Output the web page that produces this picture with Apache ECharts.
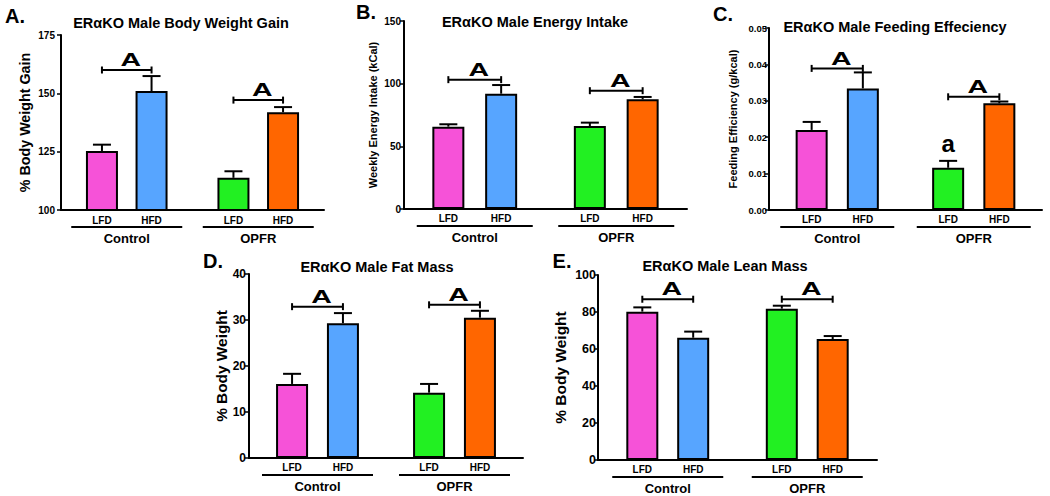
<!DOCTYPE html>
<html><head><meta charset="utf-8">
<script src="https://cdn.jsdelivr.net/npm/echarts@6/dist/echarts.min.js"></script>
<style>html,body{margin:0;padding:0;background:#fff}#c{width:1050px;height:496px}</style>
</head><body><div id="c"></div>
<script>
// ---------- data ----------
const groups = ['Control', 'OPFR'];
const diets = ['LFD', 'HFD'];

// A. Body weight gain (%)
const gainLFD = [125.3, 113.8];
const gainLFDErr = [2.7, 2.8];
const gainHFD = [151.0, 141.9];
const gainHFDErr = [6.4, 2.2];
const gainSig = [160.0, 147.1];
const gainSigText = ['A', 'A'];
const gainTicks = [100, 125, 150, 175];

// B. Weekly energy intake (kCal)
const intakeLFD = [65.7, 66.2];
const intakeLFDErr = [1.9, 2.7];
const intakeHFD = [92.0, 87.5];
const intakeHFDErr = [6.9, 1.9];
const intakeSig = [103.2, 94.4];
const intakeSigText = ['A', 'A'];
const intakeTicks = [0, 50, 100, 150];

// C. Feeding efficiency (g/kcal)
const effLFD = [0.0220, 0.0116];
const effLFDErr = [0.0022, 0.0019];
const effHFD = [0.0334, 0.0293];
const effHFDErr = [0.0044, 0.0005];
const effSig = [0.0389, 0.0311];
const effSigText = ['A', 'A'];
const effLFDLetters = ['', 'a'];
const effHFDLetters = ['', ''];
const effTicks = [0, 0.01, 0.02, 0.03, 0.04, 0.05];

// D. Fat mass (% body weight)
const fatLFD = [16.1, 14.2];
const fatLFDErr = [2.2, 1.9];
const fatHFD = [29.3, 30.5];
const fatHFDErr = [2.2, 1.5];
const fatSig = [32.9, 33.3];
const fatSigText = ['A', 'A'];
const fatTicks = [0, 10, 20, 30, 40];

// E. Lean mass (% body weight)
const leanLFD = [80.2, 81.8];
const leanLFDErr = [2.3, 1.6];
const leanHFD = [66.1, 65.4];
const leanHFDErr = [3.3, 1.6];
const leanSig = [86.9, 86.9];
const leanSigText = ['A', 'A'];
const leanTicks = [0, 20, 40, 60, 80, 100];

// ---------- styling ----------
const FONT = '"Liberation Sans", Arial, sans-serif';
const COLORS = [['#F652D8', '#57A5FF'], ['#22F022', '#FF6600']]; // [group][diet]
const BAR_W = 32;
const noLetters = ['', ''];

const panels = [
  { letter: 'A.', letterPos: [15, 16], title: 'ERαKO Male Body Weight Gain', titlePos: [181, 23],
    yName: '% Body Weight Gain', nameSize: 14.3, nameGap: 29,
    lfd: gainLFD, lfdErr: gainLFDErr, hfd: gainHFD, hfdErr: gainHFDErr, sig: gainSig, sigText: gainSigText,
    lfdLetters: noLetters, hfdLetters: noLetters, ticks: gainTicks,
    grid: { left: 61, top: 35, width: 263, height: 175 }, barGap: '55%', ulW: 111, labSize: 10, labMargin: 6,
    fmt: v => String(v) },
  { letter: 'B.', letterPos: [366, 12], title: 'ERαKO Male Energy Intake', titlePos: [535, 22],
    yName: 'Weekly Energy Intake (kCal)', nameSize: 11, nameGap: 25.5,
    lfd: intakeLFD, lfdErr: intakeLFDErr, hfd: intakeHFD, hfdErr: intakeHFDErr, sig: intakeSig, sigText: intakeSigText,
    lfdLetters: noLetters, hfdLetters: noLetters, ticks: intakeTicks,
    grid: { left: 404, top: 21, width: 283, height: 188 }, barGap: '65%', ulW: 116, labSize: 10, labMargin: 3,
    fmt: v => String(v) },
  { letter: 'C.', letterPos: [723, 14], title: 'ERαKO Male Feeding Effeciency', titlePos: [895, 27],
    yName: 'Feeding Efficiency (g/kcal)', nameSize: 11, nameGap: 30.5,
    lfd: effLFD, lfdErr: effLFDErr, hfd: effHFD, hfdErr: effHFDErr, sig: effSig, sigText: effSigText,
    lfdLetters: effLFDLetters, hfdLetters: effHFDLetters, ticks: effTicks,
    grid: { left: 769, top: 28, width: 273, height: 182 }, barGap: '60%', ulW: 114, labSize: 9.5, labMargin: 2,
    fmt: v => v.toFixed(2) },
  { letter: 'D.', letterPos: [213, 261], title: 'ERαKO Male Fat Mass', titlePos: [377, 267],
    yName: '% Body Weight', nameSize: 15.4, nameGap: 19.5,
    lfd: fatLFD, lfdErr: fatLFDErr, hfd: fatHFD, hfdErr: fatHFDErr, sig: fatSig, sigText: fatSigText,
    lfdLetters: noLetters, hfdLetters: noLetters, ticks: fatTicks,
    grid: { left: 249, top: 274, width: 274, height: 184 }, barGap: '59%', ulW: 111, labSize: 12, labMargin: 3,
    fmt: v => String(v) },
  { letter: 'E.', letterPos: [562, 261], title: 'ERαKO Male Lean Mass', titlePos: [725, 266],
    yName: '% Body Weight', nameSize: 15.5, nameGap: 30,
    lfd: leanLFD, lfdErr: leanLFDErr, hfd: leanHFD, hfdErr: leanHFDErr, sig: leanSig, sigText: leanSigText,
    lfdLetters: noLetters, hfdLetters: noLetters, ticks: leanTicks,
    grid: { left: 598, top: 275, width: 279, height: 185 }, barGap: '59%', ulW: 111, labSize: 12.5, labMargin: 2,
    fmt: v => String(v) }
];

function spacing(p) { return BAR_W * (1 + parseFloat(p.barGap) / 100); }

const option = {
  animation: false,
  backgroundColor: '#fff',
  textStyle: { fontFamily: FONT, color: '#000' },
  grid: [], xAxis: [], yAxis: [], series: [], graphic: []
};

panels.forEach((p, i) => {
  option.grid.push(Object.assign({ containLabel: false }, p.grid));
  option.xAxis.push({
    type: 'category', gridIndex: i, data: groups,
    axisLine: { lineStyle: { color: '#000', width: 2 } },
    axisTick: { alignWithLabel: true, length: 3, lineStyle: { color: '#000', width: 1.5 } },
    axisLabel: {
      interval: 0, margin: 16, color: '#000',
      formatter: v => '{ul| }\n{g|' + v + '}',
      rich: {
        ul: { width: p.ulW, height: 2, lineHeight: 2, fontSize: 2, backgroundColor: '#000' },
        g: { fontSize: 13, fontWeight: 'bold', lineHeight: 20, color: '#000', fontFamily: FONT }
      }
    }
  });
  const t = p.ticks;
  option.yAxis.push({
    type: 'value', gridIndex: i, min: t[0], max: t[t.length - 1], interval: t[1] - t[0],
    splitLine: { show: false },
    axisLine: { show: true, lineStyle: { color: '#000', width: 2 } },
    axisTick: { show: true, length: 4, lineStyle: { color: '#000', width: 1.5 } },
    axisLabel: { margin: p.labMargin, fontSize: p.labSize, fontWeight: 'bold', color: '#000', fontFamily: FONT, formatter: p.fmt },
    name: p.yName, nameLocation: 'middle', nameGap: p.nameGap, nameRotate: 90,
    nameTextStyle: { fontSize: p.nameSize, fontWeight: 'bold', color: '#000', fontFamily: FONT }
  });

  diets.forEach((d, s) => {
    const vals = s ? p.hfd : p.lfd;
    option.series.push({
      type: 'bar', name: d, xAxisIndex: i, yAxisIndex: i,
      barWidth: BAR_W, barGap: p.barGap,
      data: vals.map((v, g) => ({ value: v, itemStyle: { color: COLORS[g][s] } })),
      itemStyle: { borderColor: '#000', borderWidth: 2 },
      label: { show: true, position: 'bottom', distance: 4, formatter: d, fontSize: 10, fontWeight: 'bold', color: '#000', fontFamily: FONT },
      emphasis: { disabled: true }, silent: true, z: 2
    });
  });

  // error bars (upper only) + letters
  const errData = [];
  diets.forEach((d, s) => {
    const vals = s ? p.hfd : p.lfd;
    const errs = s ? p.hfdErr : p.lfdErr;
    vals.forEach((v, g) => errData.push([g, s, v, errs[g]]));
  });
  option.series.push({
    type: 'custom', xAxisIndex: i, yAxisIndex: i, silent: true, z: 3,
    data: errData, encode: { x: 0, y: 2 },
    renderItem: (params, api) => {
      const g = api.value(0), s = api.value(1), m = api.value(2), e = api.value(3);
      const off = (s - 0.5) * spacing(p);
      const b = api.coord([g, m]);
      const tp = api.coord([g, m + e]);
      const x = b[0] + off;
      const children = [
        { type: 'line', shape: { x1: x, y1: b[1], x2: x, y2: tp[1] }, style: { stroke: '#000', lineWidth: 2 } },
        { type: 'line', shape: { x1: x - 9, y1: tp[1], x2: x + 9, y2: tp[1] }, style: { stroke: '#000', lineWidth: 2 } }
      ];
      const letter = (s ? p.hfdLetters : p.lfdLetters)[g];
      if (letter) {
        children.push({ type: 'text', x: x, y: tp[1] - 5,
          style: { text: letter, fontSize: 24, fontWeight: 'bold', fill: '#000', align: 'center', verticalAlign: 'bottom', fontFamily: FONT } });
      }
      return { type: 'group', children };
    }
  });

  // significance brackets
  option.series.push({
    type: 'custom', xAxisIndex: i, yAxisIndex: i, silent: true, z: 3,
    data: p.sig.map((y, g) => [g, y]), encode: { x: 0, y: 1 },
    renderItem: (params, api) => {
      const c = api.coord([api.value(0), api.value(1)]);
      const h = spacing(p) / 2;
      const ls = { stroke: '#000', lineWidth: 2 };
      return { type: 'group', children: [
        { type: 'line', shape: { x1: c[0] - h, y1: c[1], x2: c[0] + h, y2: c[1] }, style: ls },
        { type: 'line', shape: { x1: c[0] - h, y1: c[1] - 3.5, x2: c[0] - h, y2: c[1] + 3.5 }, style: ls },
        { type: 'line', shape: { x1: c[0] + h, y1: c[1] - 3.5, x2: c[0] + h, y2: c[1] + 3.5 }, style: ls },
        { type: 'text', x: c[0] + 4, y: c[1] - 1, scaleX: 1.5,
          style: { text: p.sigText[params.dataIndex], fontSize: 19, fontWeight: 'bold', fill: '#000', align: 'center', verticalAlign: 'bottom', fontFamily: FONT } }
      ] };
    }
  });

  option.graphic.push({ type: 'text', x: p.titlePos[0], y: p.titlePos[1],
    style: { text: p.title, fontSize: 14.5, fontWeight: 'bold', fill: '#000', align: 'center', verticalAlign: 'middle', textAlign: 'center', textVerticalAlign: 'middle', fontFamily: FONT } });
  option.graphic.push({ type: 'text', x: p.letterPos[0], y: p.letterPos[1],
    style: { text: p.letter, fontSize: 20, fontWeight: 'bold', fill: '#000', align: 'center', verticalAlign: 'middle', textAlign: 'center', textVerticalAlign: 'middle', fontFamily: FONT } });
});

const chart = echarts.init(document.getElementById('c'), null, { renderer: 'svg', width: 1050, height: 496 });
chart.setOption(option);
</script>
</body></html>
